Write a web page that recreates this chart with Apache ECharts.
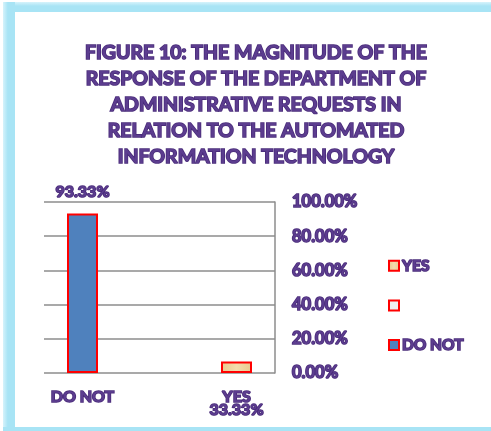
<!DOCTYPE html>
<html>
<head>
<meta charset="utf-8">
<script src="https://cdn.jsdelivr.net/npm/echarts@6/dist/echarts.min.js"></script>
<style>
  html, body { margin: 0; padding: 0; background: #fff; }
  #myChart { width: 491px; height: 431px; }
</style>
</head>
<body>
<div id="myChart"></div>
<script>
// chart data
const categories = ["DO NOT", "", "YES"];
const seriesNames = ["DO NOT", " ", "YES"];
const values = [93.33, null, 6.67];
const valueLabels = ["93.33%", "", "33.33%"];
const yTicks = [0, 20, 40, 60, 80, 100];

const purple = "#5c3d8f";
const purpleDark = "#4a2c7a";
const textBase = {
  color: purple,
  fontFamily: "Lato",
  fontWeight: "bold",
  textBorderColor: purpleDark,
  textBorderWidth: 1.6
};

const fills = [
  "#4f81bd",
  "#eeeeee",
  new echarts.graphic.LinearGradient(0, 0, 1, 0, [
    { offset: 0, color: "#e9c98c" },
    { offset: 0.5, color: "#f3dcac" },
    { offset: 1, color: "#e9c98c" }
  ])
];

// one series per category, stacked so each sits in the middle of its slot
let series = seriesNames.map(function (name, i) {
  let data = categories.map(function (c, j) { return j === i ? values[i] : "-"; });
  return {
    name: name,
    type: "bar",
    stack: "all",
    barWidth: 31,
    data: data,
    itemStyle: { color: fills[i], borderColor: "#ff0000", borderWidth: 2 },
    label: {
      show: i === 0,
      position: "top",
      distance: 14,
      formatter: function () { return valueLabels[i]; },
      ...textBase,
      fontSize: 16
    }
  };
});

let myChart = echarts.init(document.getElementById("myChart"));
myChart.setOption({
  animation: false,
  graphic: [
    { type: "rect", z: -10, shape: { x: 3, y: 2, width: 488, height: 10 },
      style: { fill: new echarts.graphic.LinearGradient(0, 0, 0, 1, [
        { offset: 0, color: "#d6f3fb" }, { offset: 0.4, color: "#a8e4f5" }, { offset: 1, color: "#a8e4f5" }]) } },
    { type: "rect", z: -10, shape: { x: 3, y: 2, width: 12, height: 429 },
      style: { fill: new echarts.graphic.LinearGradient(0, 0, 1, 0, [
        { offset: 0, color: "#d6f3fb" }, { offset: 0.4, color: "#a8e4f5" }, { offset: 1, color: "#a8e4f5" }]) } },
    { type: "rect", z: -10, shape: { x: 3, y: 427, width: 488, height: 4 },
      style: { fill: "#a8e4f5" } }
  ],
  title: {
    text: "FIGURE 10: THE MAGNITUDE OF THE\nRESPONSE OF THE DEPARTMENT OF\nADMINISTRATIVE REQUESTS IN\nRELATION TO THE AUTOMATED\nINFORMATION TECHNOLOGY",
    left: 251,
    textAlign: "center",
    top: 35,
    textStyle: { ...textBase, fontSize: 19.5, lineHeight: 26 }
  },
  legend: {
    orient: "vertical",
    left: 383,
    top: 252,
    itemWidth: 10,
    itemHeight: 10,
    itemGap: 22,
    itemStyle: { borderColor: "#ff0000", borderWidth: 2 },
    icon: "rect",
    data: ["YES", " ", "DO NOT"],
    textStyle: { ...textBase, fontSize: 15.5, padding: [0, 0, 0, -2] }
  },
  grid: { left: 44, right: 216, top: 202, bottom: 58 },
  xAxis: {
    type: "category",
    data: categories,
    axisLine: { show: false },
    axisTick: { show: false },
    axisLabel: {
      margin: 17,
      interval: 0,
      verticalAlign: "top",
      lineHeight: 13,
      formatter: function (v, i) {
        return valueLabels[i] && i !== 0 ? v + "\n" + valueLabels[i] : v;
      },
      ...textBase,
      fontSize: 16
    }
  },
  yAxis: {
    type: "value",
    position: "right",
    min: yTicks[0],
    max: yTicks[yTicks.length - 1],
    interval: 20,
    axisLine: { show: true, lineStyle: { color: "#8c8c8c", width: 1.5 } },
    axisTick: { show: false },
    splitLine: { lineStyle: { color: "#8c8c8c", width: 1.5 } },
    axisLabel: {
      margin: 17,
      formatter: function (v) { return v.toFixed(2) + "%"; },
      ...textBase,
      fontSize: 16.5
    }
  },
  series: series
});
</script>
</body>
</html>
